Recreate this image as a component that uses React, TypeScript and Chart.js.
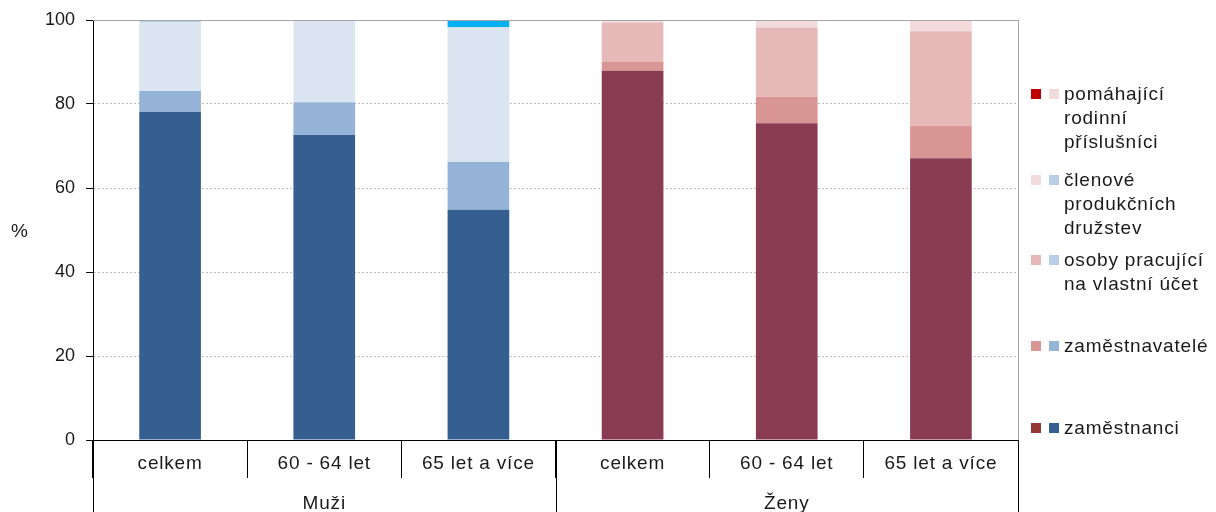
import React, { useEffect, useRef } from "react";
import { Chart, registerables } from "chart.js";

Chart.register(...registerables);

const categories = ["celkem", "60 - 64 let", "65 let a více", "celkem", "60 - 64 let", "65 let a více"];
const groups = ["Muži", "Ženy"];
const groupSize = 3;

const zamestnanci = [78.1, 72.6, 54.8, 87.9, 75.4, 67.1];
const zamestnavatele = [5.0, 7.8, 11.4, 2.1, 6.3, 7.7];
const osoby = [16.4, 19.6, 32.1, 9.4, 16.5, 22.5];
const clenove = [0.5, 0, 0, 0.6, 1.8, 2.7];
const pomahajici = [0, 0, 1.7, 0, 0, 0];

const yTicks = [0, 20, 40, 60, 80, 100];

const seriesNames = ["zaměstnanci", "zaměstnavatelé", "osoby pracující na vlastní účet", "členové produkčních družstev", "pomáhající rodinní příslušníci"];
const menColors = ["#365f91", "#95b3d7", "#dbe5f1", "#b9cde5", "#00b0f0"];
const womenColors = ["#893b54", "#d99594", "#e6b9b8", "#f2dcdb", "#c00000"];

const legendItems = [
  { lines: ["pomáhající", "rodinní", "příslušníci"], colors: ["#c00000", "#f2dcdb"], top: 82 },
  { lines: ["členové", "produkčních", "družstev"], colors: ["#f2dcdb", "#b9cde5"], top: 168 },
  { lines: ["osoby pracující", "na vlastní účet"], colors: ["#e6b9b8", "#b9cde5"], top: 248 },
  { lines: ["zaměstnavatelé"], colors: ["#d99594", "#95b3d7"], top: 334 },
  { lines: ["zaměstnanci"], colors: ["#953735", "#365f91"], top: 416 },
];

const FONT = "'Liberation Sans', Arial, sans-serif";

const bottomPlugin = {
  id: "bottomLabels",
  afterDraw(chart: any) {
    const ctx = chart.ctx;
    const xs = chart.scales.x;
    const area = chart.chartArea;
    const step = xs.width / categories.length;
    ctx.save();
    // plot box top/right
    ctx.strokeStyle = "#a6a6a6";
    ctx.lineWidth = 1;
    ctx.beginPath();
    ctx.moveTo(area.left, Math.round(area.top) + 0.5);
    ctx.lineTo(area.right, Math.round(area.top) + 0.5);
    ctx.moveTo(Math.round(area.right) + 0.5, area.top);
    ctx.lineTo(Math.round(area.right) + 0.5, area.bottom);
    ctx.stroke();
    // category labels
    ctx.fillStyle = "#1a1a1a";
    ctx.font = "19px " + FONT;
    (ctx as any).letterSpacing = "0.8px";
    ctx.textAlign = "center";
    ctx.textBaseline = "middle";
    categories.forEach((c, i) => {
      ctx.fillText(c, xs.getPixelForValue(i), area.bottom + 24);
    });
    // group labels and separators
    ctx.strokeStyle = "#000";
    ctx.beginPath();
    groups.forEach((g, gi) => {
      const first = gi * groupSize;
      const mid = (xs.getPixelForValue(first) + xs.getPixelForValue(first + groupSize - 1)) / 2;
      ctx.fillText(g, mid, area.bottom + 64);
      const left = Math.round(xs.getPixelForValue(first) - step / 2) + 0.5;
      ctx.moveTo(left, area.bottom);
      ctx.lineTo(left, chart.height);
    });
    const rightEdge = Math.round(xs.getPixelForValue(categories.length - 1) + step / 2) + 0.5;
    ctx.moveTo(rightEdge, area.bottom);
    ctx.lineTo(rightEdge, chart.height);
    ctx.stroke();
    ctx.restore();
  },
};

export default function App() {
  const ref = useRef<HTMLCanvasElement>(null);
  useEffect(() => {
    const values = [zamestnanci, zamestnavatele, osoby, clenove, pomahajici];
    const chart = new Chart(ref.current!, {
      type: "bar",
      data: {
        labels: categories,
        datasets: values.map((v, si) => ({
          label: seriesNames[si],
          data: v,
          backgroundColor: categories.map((_, i) => (i < groupSize ? menColors[si] : womenColors[si])),
          borderWidth: 0,
          barPercentage: 0.8,
          categoryPercentage: 0.5,
        })),
      },
      options: {
        animation: false,
        responsive: true,
        maintainAspectRatio: false,
        layout: { padding: { left: 0, top: 20, right: 198, bottom: 0 } },
        plugins: { legend: { display: false }, tooltip: { enabled: false } },
        scales: {
          x: {
            stacked: true,
            ticks: { display: false },
            grid: {
              display: true,
              offset: true,
              drawOnChartArea: false,
              tickLength: 38,
              color: "#000",
              tickColor: "#000",
            },
            border: { display: true, color: "#000", width: 1 },
            afterFit: (s: any) => {
              s.height = 72;
              s.paddingLeft = 0;
              s.paddingRight = 0;
            },
          },
          y: {
            stacked: true,
            min: 0,
            max: 100,
            afterBuildTicks: (s: any) => {
              s.ticks = yTicks.map((v) => ({ value: v }));
            },
            ticks: {
              color: "#1a1a1a",
              font: { family: FONT, size: 18 },
              padding: 11,
            },
            grid: {
              color: "#bfbfbf",
              tickColor: "#000",
              tickLength: 7,
            },
            border: { display: true, color: "#000", width: 1, dash: [2, 2] },
            afterFit: (s: any) => {
              s.width = 93;
              s.paddingTop = 0;
              s.paddingBottom = 0;
            },
          },
        },
      },
      plugins: [bottomPlugin],
    });
    return () => chart.destroy();
  }, []);

  return (
    <div style={{ position: "absolute", left: 0, top: 0, width: 1216, height: 512, background: "#fff", fontFamily: FONT }}>
      <canvas ref={ref} />
      <div style={{ position: "absolute", left: 11, top: 220, fontSize: 19, color: "#1a1a1a" }}>%</div>
      {legendItems.map((it, i) => (
        <div key={i} style={{ position: "absolute", left: 1031, top: it.top }}>
          <div style={{ position: "absolute", left: 0, top: 7, width: 10, height: 10, background: it.colors[0] }} />
          <div style={{ position: "absolute", left: 18, top: 7, width: 10, height: 10, background: it.colors[1] }} />
          <div style={{ position: "absolute", left: 33, top: 0, fontSize: 19, lineHeight: "24px", letterSpacing: "0.8px", color: "#1a1a1a", whiteSpace: "nowrap" }}>
            {it.lines.map((l, j) => (
              <div key={j}>{l}</div>
            ))}
          </div>
        </div>
      ))}
    </div>
  );
}
